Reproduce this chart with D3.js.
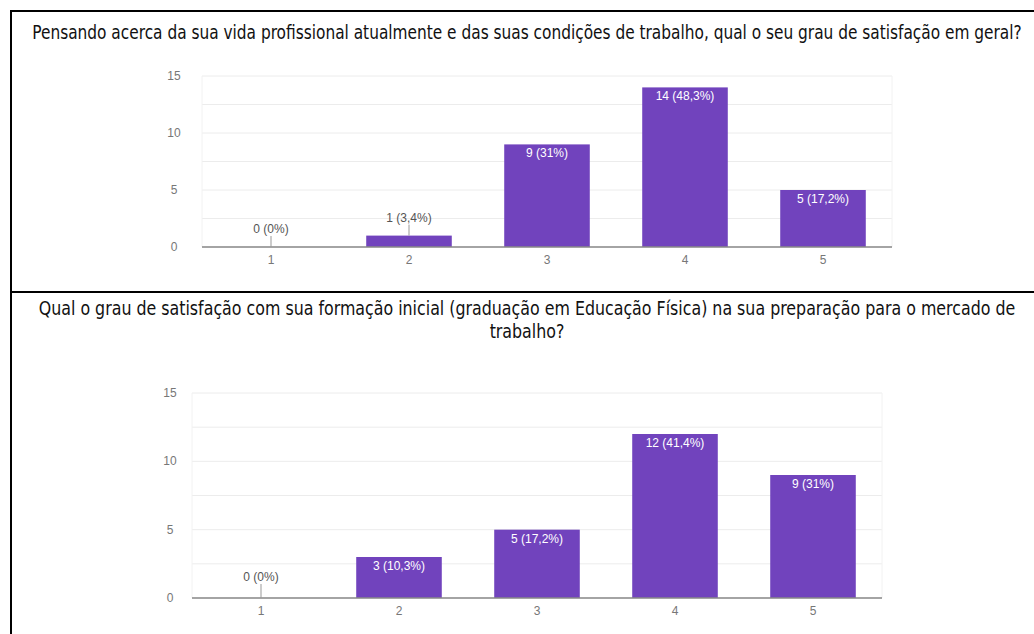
<!DOCTYPE html>
<html><head><meta charset="utf-8">
<script src="https://cdn.jsdelivr.net/npm/d3@7"></script>
<style>
html,body{margin:0;padding:0;background:#fff;}
svg{display:block;}
</style></head>
<body>
<svg id="c" width="1034" height="634"></svg>
<script>
const categories = ["1","2","3","4","5"];
const values1 = [0, 1, 9, 14, 5];
const labels1 = ["0 (0%)","1 (3,4%)","9 (31%)","14 (48,3%)","5 (17,2%)"];
const values2 = [0, 3, 5, 12, 9];
const labels2 = ["0 (0%)","3 (10,3%)","5 (17,2%)","12 (41,4%)","9 (31%)"];
const yTicks = [0, 5, 10, 15];
const gridTicks = [0, 2.5, 5, 7.5, 10, 12.5, 15];
const title1 = "Pensando acerca da sua vida profissional atualmente e das suas condições de trabalho, qual o seu grau de satisfação em geral?";
const title2a = "Qual o grau de satisfação com sua formação inicial (graduação em Educação Física) na sua preparação para o mercado de";
const title2b = "trabalho?";

const svg = d3.select("#c");
const titleFont = "'DejaVu Sans Condensed','Liberation Sans Narrow','DejaVu Sans',sans-serif";
const chartFont = "'Liberation Sans',Arial,sans-serif";
const barColor = "#7143bd";

// frame lines
svg.append("line").attr("x1",10).attr("x2",1034).attr("y1",11).attr("y2",11).attr("stroke","#000").attr("stroke-width",2);
svg.append("line").attr("x1",11).attr("x2",11).attr("y1",10).attr("y2",634).attr("stroke","#000").attr("stroke-width",2);
svg.append("line").attr("x1",10).attr("x2",1034).attr("y1",292).attr("y2",292).attr("stroke","#000").attr("stroke-width",2);

function measure(str, size) {
  const t = svg.append("text").style("font-family",titleFont).style("font-stretch","condensed")
    .style("font-size",size+"px").text(str);
  const w = t.node().getComputedTextLength(); t.remove(); return w;
}
function fitText(x, y, str, width, size) {
  const n = measure(str, size);
  const sx = width / n;
  svg.append("text").attr("text-anchor","middle")
    .attr("transform", `translate(${x},${y}) scale(${sx},1)`)
    .style("font-family",titleFont).style("font-stretch","condensed").style("font-size",size+"px")
    .attr("fill","#111").text(str);
  return sx;
}
fitText(527, 39, title1, 990, 19);
const s2 = fitText(527, 315, title2a, 977, 19);
fitText(527, 338, title2b, measure(title2b, 19) * s2, 19);

function drawChart(cfg) {
  const g = svg.append("g");
  const x = d3.scaleBand().domain(categories).range([cfg.left, cfg.right]).paddingInner(0.38).paddingOuter(0.19);
  const y = d3.scaleLinear().domain([0, 15]).range([cfg.bottom, cfg.top]);

  g.selectAll("line.grid").data(gridTicks).join("line")
    .attr("x1", cfg.left).attr("x2", cfg.right)
    .attr("y1", d => y(d)).attr("y2", d => y(d))
    .attr("stroke", "#ececec").attr("stroke-width", 1);
  g.append("line").attr("x1",cfg.left).attr("x2",cfg.left).attr("y1",y(15)).attr("y2",y(0)).attr("stroke","#f2f2f2");
  g.append("line").attr("x1",cfg.right).attr("x2",cfg.right).attr("y1",y(15)).attr("y2",y(0)).attr("stroke","#f2f2f2");

  g.selectAll("text.yl").data(yTicks).join("text")
    .attr("x", cfg.left - cfg.yOff).attr("y", d => y(d) + 4)
    .attr("text-anchor","middle").style("font-family",chartFont).style("font-size","12px")
    .attr("fill","#777").text(d => d);

  g.selectAll("rect").data(cfg.values).join("rect")
    .attr("x", (d,i) => x(categories[i])).attr("width", x.bandwidth())
    .attr("y", d => y(d)).attr("height", d => y(0) - y(d))
    .attr("fill", barColor);

  g.append("line").attr("x1",cfg.left).attr("x2",cfg.right).attr("y1",y(0)).attr("y2",y(0))
    .attr("stroke","#888").attr("stroke-width",1.5);

  g.selectAll("text.xl").data(categories).join("text")
    .attr("x", d => x(d) + x.bandwidth()/2).attr("y", y(0) + 17)
    .attr("text-anchor","middle").style("font-family",chartFont).style("font-size","12px")
    .attr("fill","#777").text(d => d);

  cfg.values.forEach((v, i) => {
    const cx = x(categories[i]) + x.bandwidth()/2;
    const h = y(0) - y(v);
    if (h >= 18) {
      g.append("text").attr("x", cx).attr("y", y(v) + 13).attr("text-anchor","middle")
        .style("font-family",chartFont).style("font-size","12px").attr("fill","#fff").text(cfg.labels[i]);
    } else {
      g.append("line").attr("x1",cx).attr("x2",cx).attr("y1",y(v)).attr("y2",y(v)-cfg.lead)
        .attr("stroke","#999").attr("stroke-width",1);
      g.append("text").attr("x", cx).attr("y", y(v) - cfg.lead - 3).attr("text-anchor","middle")
        .style("font-family",chartFont).style("font-size","12px").attr("fill","#555").text(cfg.labels[i]);
    }
  });
}

drawChart({left:202, right:892, top:76, bottom:247, yOff:28, lead:11, values:values1, labels:labels1});
drawChart({left:192, right:882, top:393, bottom:598, yOff:22, lead:14, values:values2, labels:labels2});
</script>
</body></html>
